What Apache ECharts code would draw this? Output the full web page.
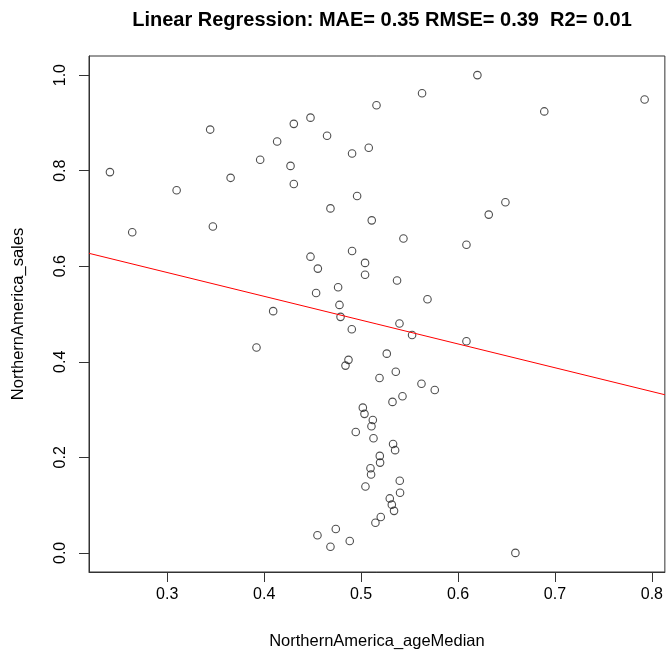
<!DOCTYPE html>
<html>
<head>
<meta charset="utf-8">
<script src="https://cdn.jsdelivr.net/npm/echarts@6/dist/echarts.min.js"></script>
<style>html,body{margin:0;padding:0;background:#fff}#c{width:666px;height:655px}</style>
</head>
<body>
<div id="c"></div>
<script>
const titleText = 'Linear Regression: MAE= 0.35 RMSE= 0.39  R2= 0.01';
const xName = 'NorthernAmerica_ageMedian';
const yName = 'NorthernAmerica_sales';
const xTicks = [0.3, 0.4, 0.5, 0.6, 0.7, 0.8];
const yTicks = [0.0, 0.2, 0.4, 0.6, 0.8, 1.0];
const xRange = [0.2193, 0.8134];
const yRange = [-0.04, 1.04];
const ageMedian = [0.2409,0.2639,0.3097,0.3443,0.3471,0.3654,0.3959,0.4134,0.4306,0.4478,0.4272,0.4306,0.4649,0.4907,0.5079,0.5159,0.4959,0.4684,0.5110,0.4478,0.4554,0.4907,0.5041,0.5041,0.4763,0.4536,0.4777,0.4093,0.5629,0.6200,0.6890,0.7925,0.6489,0.6317,0.5437,0.6087,0.5371,0.5685,0.5396,0.5526,0.6087,0.5265,0.5358,0.5190,0.5623,0.5760,0.5427,0.5324,0.5121,0.5107,0.5128,0.5330,0.5351,0.5193,0.5196,0.5097,0.5103,0.5399,0.5402,0.5296,0.5317,0.5340,0.5203,0.5148,0.6592,0.4788,0.4904,0.3921,0.4870,0.4839,0.5018,0.5035,0.4945,0.5045,0.4550,0.4739,0.4883,0.4684];
const sales = [0.797,0.671,0.759,0.886,0.683,0.785,0.823,0.861,0.898,0.911,0.810,0.772,0.873,0.836,0.848,0.937,0.747,0.721,0.696,0.620,0.595,0.632,0.607,0.582,0.556,0.544,0.519,0.506,0.962,1.000,0.924,0.949,0.734,0.708,0.658,0.645,0.570,0.531,0.480,0.456,0.443,0.417,0.379,0.366,0.354,0.341,0.328,0.316,0.278,0.265,0.240,0.228,0.215,0.203,0.189,0.177,0.164,0.151,0.126,0.114,0.101,0.088,0.075,0.063,0.000,0.494,0.468,0.430,0.404,0.392,0.304,0.291,0.253,0.139,0.037,0.050,0.025,0.013];
const fitX = [0.2193, 0.8134];
const fitY = [0.627, 0.331];

const points = ageMedian.map((x, i) => [x, sales[i]]);
const fitLine = fitX.map((x, i) => [x, fitY[i]]);
const font = '"Liberation Sans", Arial, sans-serif';

const chart = echarts.init(document.getElementById('c'), null, {renderer: 'canvas'});
chart.setOption({
  animation: false,
  backgroundColor: '#fff',
  title: {
    text: titleText, left: 377, top: 5, textAlign: 'center',
    textStyle: {fontFamily: font, fontWeight: 'bold', fontSize: 20, color: '#000'}
  },
  grid: {left: 89, right: 1, top: 56, bottom: 83, show: true, borderColor: '#333', borderWidth: 1, backgroundColor: 'transparent'},
  xAxis: {
    type: 'value', min: xRange[0], max: xRange[1],
    name: xName, nameLocation: 'middle', nameGap: 61,
    nameTextStyle: {fontFamily: font, fontSize: 16.5, color: '#000'},
    axisLine: {show: true, onZero: false, lineStyle: {color: '#333'}},
    axisTick: {show: true, length: 10, customValues: xTicks, lineStyle: {color: '#333'}},
    axisLabel: {customValues: xTicks, margin: 15, fontFamily: font, fontSize: 16, color: '#000', formatter: v => v.toFixed(1)},
    splitLine: {show: false}
  },
  yAxis: {
    type: 'value', min: yRange[0], max: yRange[1],
    name: yName, nameLocation: 'middle', nameGap: 62,
    nameTextStyle: {fontFamily: font, fontSize: 16.5, color: '#000'},
    axisLine: {show: true, onZero: false, lineStyle: {color: '#333'}},
    axisTick: {show: true, length: 10, customValues: yTicks, lineStyle: {color: '#333'}},
    axisLabel: {customValues: yTicks, rotate: 90, margin: 20, fontFamily: font, fontSize: 16, color: '#000', formatter: v => v.toFixed(1)},
    splitLine: {show: false}
  },
  series: [
    {
      type: 'scatter', data: points, symbol: 'circle', symbolSize: 7.5,
      itemStyle: {color: 'rgba(0,0,0,0)', borderColor: '#222', borderWidth: 1.1},
      silent: true
    },
    {
      type: 'line', data: fitLine, symbol: 'none',
      lineStyle: {color: '#ff0000', width: 1},
      silent: true
    }
  ]
});
</script>
</body>
</html>
